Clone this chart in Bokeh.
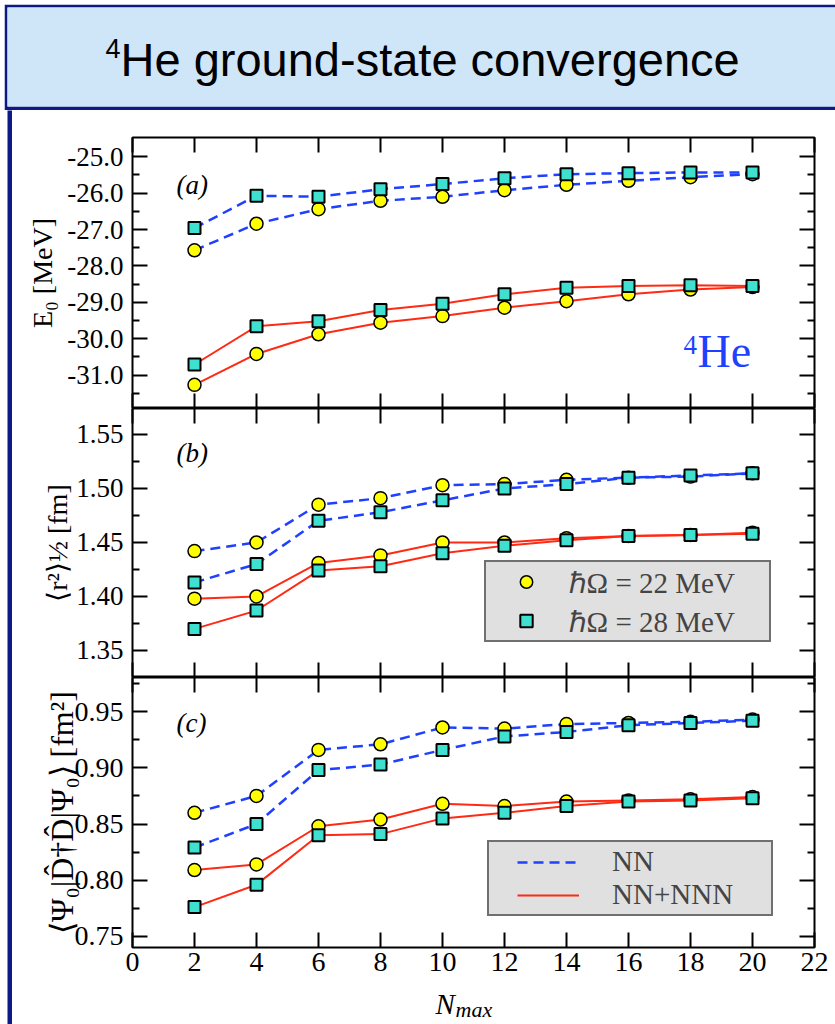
from bokeh.plotting import figure
from bokeh.models import (Range1d, FixedTicker, PrintfTickFormatter, LinearAxis, Label,
                          Legend, LegendItem, Spacer)
from bokeh.layouts import column, row
from bokeh.embed import file_html
from bokeh.resources import INLINE

# ---------------- data ----------------
nmax = [2, 4, 6, 8, 10, 12, 14, 16, 18, 20]

e0_nn_22 = [-27.57, -26.84, -26.44, -26.21, -26.10, -25.92, -25.77, -25.66, -25.56, -25.48]
e0_nn_28 = [-26.96, -26.07, -26.10, -25.89, -25.75, -25.59, -25.48, -25.45, -25.43, -25.43]
e0_nnn_22 = [-31.27, -30.42, -29.88, -29.56, -29.38, -29.15, -28.97, -28.78, -28.65, -28.58]
e0_nnn_28 = [-30.71, -29.66, -29.52, -29.21, -29.04, -28.78, -28.60, -28.55, -28.53, -28.55]

r_nn_22 = [1.442, 1.450, 1.485, 1.491, 1.503, 1.504, 1.508, 1.510, 1.511, 1.514]
r_nn_28 = [1.413, 1.430, 1.470, 1.478, 1.489, 1.500, 1.504, 1.510, 1.512, 1.514]
r_nnn_22 = [1.398, 1.400, 1.431, 1.438, 1.450, 1.450, 1.454, 1.456, 1.457, 1.459]
r_nnn_28 = [1.370, 1.387, 1.424, 1.428, 1.440, 1.447, 1.452, 1.456, 1.457, 1.458]

d_nn_22 = [0.860, 0.875, 0.916, 0.921, 0.936, 0.935, 0.939, 0.940, 0.941, 0.943]
d_nn_28 = [0.829, 0.850, 0.898, 0.903, 0.916, 0.928, 0.932, 0.938, 0.940, 0.942]
d_nnn_22 = [0.809, 0.814, 0.848, 0.854, 0.868, 0.866, 0.870, 0.871, 0.872, 0.874]
d_nnn_28 = [0.776, 0.796, 0.840, 0.841, 0.855, 0.860, 0.866, 0.870, 0.871, 0.873]

x_ticks = [0, 2, 4, 6, 8, 10, 12, 14, 16, 18, 20, 22]
e0_ticks = [-25.0, -26.0, -27.0, -28.0, -29.0, -30.0, -31.0]
e0_minor = [-25.5, -26.5, -27.5, -28.5, -29.5, -30.5, -31.5]
r_ticks = [1.35, 1.40, 1.45, 1.50, 1.55]
r_minor = [1.375, 1.425, 1.475, 1.525]
d_ticks = [0.75, 0.80, 0.85, 0.90, 0.95]
d_minor = [0.775, 0.825, 0.875, 0.925, 0.975]

title_sup = "4"
title_text = "He ground-state convergence"
legend_hw = ["ℏΩ = 22 MeV", "ℏΩ = 28 MeV"]
legend_int = ["NN", "NN+NNN"]

# ---------------- style ----------------
BLUE = "#1f40ff"
RED = "#ff2a14"
YELLOW = "#ffff00"
TURQ = "#40e0d0"
NAVY = "#0c1a85"
TITLE_BG = "#cfe5f8"
LEG_BG = "#e0e0e0"
SERIF = "Liberation Serif"

xr = Range1d(0, 22)


def style_axis(ax, majors, minors, show_labels, fmt=None, font_size="26px", standoff=9):
    ax.ticker = FixedTicker(ticks=majors, minor_ticks=minors)
    ax.axis_line_color = None
    ax.major_tick_in = 15
    ax.major_tick_out = 0
    ax.minor_tick_in = 7
    ax.minor_tick_out = 0
    ax.major_tick_line_width = 2
    ax.minor_tick_line_width = 2
    ax.major_tick_line_color = "black"
    ax.minor_tick_line_color = "black"
    if show_labels:
        ax.major_label_text_font = SERIF
        ax.major_label_text_font_size = font_size
        ax.major_label_text_color = "black"
        ax.major_label_standoff = standoff
        if fmt:
            ax.formatter = PrintfTickFormatter(format=fmt)
    else:
        ax.major_label_text_font_size = "0px"
        ax.major_label_standoff = 0


def make_panel(yr, height, btop, bbot, yt, ym, fmt, yfont_size, ylabel, ylabel_size,
               ylabel_standoff, show_x):
    p = figure(width=822, height=height, x_range=xr, y_range=yr,
               toolbar_location=None, output_backend="svg",
               min_border_left=120, min_border_right=20,
               min_border_top=btop, min_border_bottom=bbot,
               x_axis_location=None, y_axis_location=None)
    p.grid.visible = False
    p.outline_line_color = "black"
    p.outline_line_width = 2
    p.background_fill_color = "white"
    p.border_fill_color = "white"
    left = LinearAxis()
    style_axis(left, yt, ym, True, fmt, yfont_size)
    left.axis_label = ylabel
    left.axis_label_text_font = SERIF
    left.axis_label_text_font_size = ylabel_size
    left.axis_label_text_font_style = "normal"
    left.axis_label_text_color = "black"
    left.axis_label_standoff = ylabel_standoff
    p.add_layout(left, "left")
    right = LinearAxis()
    style_axis(right, yt, ym, False)
    p.add_layout(right, "right")
    top = LinearAxis()
    style_axis(top, x_ticks, [], False)
    p.add_layout(top, "above")
    bottom = LinearAxis()
    style_axis(bottom, x_ticks, [], show_x, "%d", "28px", 5)
    p.add_layout(bottom, "below")
    return p


def draw(p, nn22, nn28, nnn22, nnn28):
    lines = []
    for ys in (nn22, nn28):
        lines.append(p.line(nmax, ys, line_color=BLUE, line_width=2.5, line_dash="10 6"))
    for ys in (nnn22, nnn28):
        lines.append(p.line(nmax, ys, line_color=RED, line_width=2))
    circs = [p.scatter(nmax, ys, marker="circle", size=13, fill_color=YELLOW,
                       line_color="black", line_width=1.5) for ys in (nn22, nnn22)]
    sqs = [p.scatter(nmax, ys, marker="square", size=12, fill_color=TURQ,
                     line_color="black", line_width=2) for ys in (nn28, nnn28)]
    return lines, circs, sqs


def add_text(p, txt, x, y, size, font=SERIF, style="normal", color="black"):
    p.add_layout(Label(x=x, y=y, x_units="screen", y_units="screen", text=txt,
                       text_font=font, text_font_style=style, text_font_size=size,
                       text_color=color, text_baseline="middle"))


# ---------------- title ----------------
title = figure(width=831, height=106, x_range=(0, 1), y_range=(0, 1),
               toolbar_location=None, output_backend="svg",
               min_border_left=3, min_border_top=3, min_border_bottom=4, min_border_right=0,
               x_axis_location=None, y_axis_location=None)
title.grid.visible = False
title.outline_line_color = None
title.background_fill_color = TITLE_BG
title.border_fill_color = NAVY
add_text(title, title_sup, 98, 58, "27px", font="Liberation Sans")
add_text(title, title_text, 113, 47, "47px", font="Liberation Sans")

# ---------------- panels ----------------
pa = make_panel(Range1d(-31.92, -24.47), 298, 27, 0, e0_ticks, e0_minor, "%.1f", "27px",
                "E₀ [MeV]", "28px", 6, False)
pb = make_panel(Range1d(1.325, 1.574), 269, 0, 0, r_ticks, r_minor, "%.2f", "27px",
                "⟨r²⟩½ [fm]", "28px", 0, False)
pc = make_panel(Range1d(0.740, 0.9805), 310, 0, 40, d_ticks, d_minor, "%.2f", "28px",
                "⟨Ψ₀|D̂†D̂|Ψ₀⟩ [fm²]", "32px", -8, True)

draw(pa, e0_nn_22, e0_nn_28, e0_nnn_22, e0_nnn_28)
lb, cb, sb = draw(pb, r_nn_22, r_nn_28, r_nnn_22, r_nnn_28)
lc, cc, sc = draw(pc, d_nn_22, d_nn_28, d_nnn_22, d_nnn_28)

add_text(pa, "(a)", 44, 224, "27px", style="italic")
add_text(pb, "(b)", 44, 225, "27px", style="italic")
add_text(pc, "(c)", 44, 225, "27px", style="italic")

add_text(pa, "4", 551, 64, "27px", color=BLUE)
add_text(pa, "He", 565, 57, "46px", color=BLUE)

# x-axis title strip (N_max) below panel (c), sharing the x range
xl = figure(width=822, height=37, x_range=xr, y_range=(0, 1),
            toolbar_location=None, output_backend="svg",
            min_border_left=120, min_border_right=20, min_border_top=0, min_border_bottom=0,
            x_axis_location=None, y_axis_location=None)
xl.grid.visible = False
xl.outline_line_color = None
xl.background_fill_color = "white"
xl.border_fill_color = "white"
add_text(xl, "N", 303, 21, "29px", style="italic")
add_text(xl, "max", 323, 15, "22px", style="italic")

leg1 = Legend(items=[LegendItem(label=legend_hw[0], renderers=[cb[0]]),
                     LegendItem(label=legend_hw[1], renderers=[sb[0]])],
              location=(351.6, 35.5), padding=0, spacing=0, glyph_width=80, glyph_height=31,
              label_standoff=3, label_width=200,
              label_text_font=SERIF, label_text_font_size="29px",
              background_fill_color=LEG_BG, background_fill_alpha=1.0,
              border_line_color="black", border_line_width=2)
pb.add_layout(leg1)

leg2 = Legend(items=[LegendItem(label=legend_int[0], renderers=[lc[0]]),
                     LegendItem(label=legend_int[1], renderers=[lc[2]])],
              location=(355, 31), padding=3, spacing=0, glyph_width=62, glyph_height=30,
              label_standoff=33, label_width=156,
              title=" ", title_location="left", title_standoff=24,
              title_text_font_size="1px",
              label_text_font=SERIF, label_text_font_size="29px",
              background_fill_color=LEG_BG, background_fill_alpha=1.0,
              border_line_color="black", border_line_width=2)
pc.add_layout(leg2)

bar = figure(width=5, height=298 + 269 + 310 + 37, toolbar_location=None, output_backend="svg",
             min_border=0, x_axis_location=None, y_axis_location=None)
bar.grid.visible = False
bar.outline_line_color = None
bar.background_fill_color = NAVY
bar.border_fill_color = NAVY

layout = column(
    Spacer(width=835, height=4),
    row(Spacer(width=4, height=106), title, spacing=0),
    row(Spacer(width=7, height=914), bar, column(pa, pb, pc, xl, spacing=0), spacing=0),
    spacing=0)

open("out.html", "w").write(file_html(layout, INLINE))
